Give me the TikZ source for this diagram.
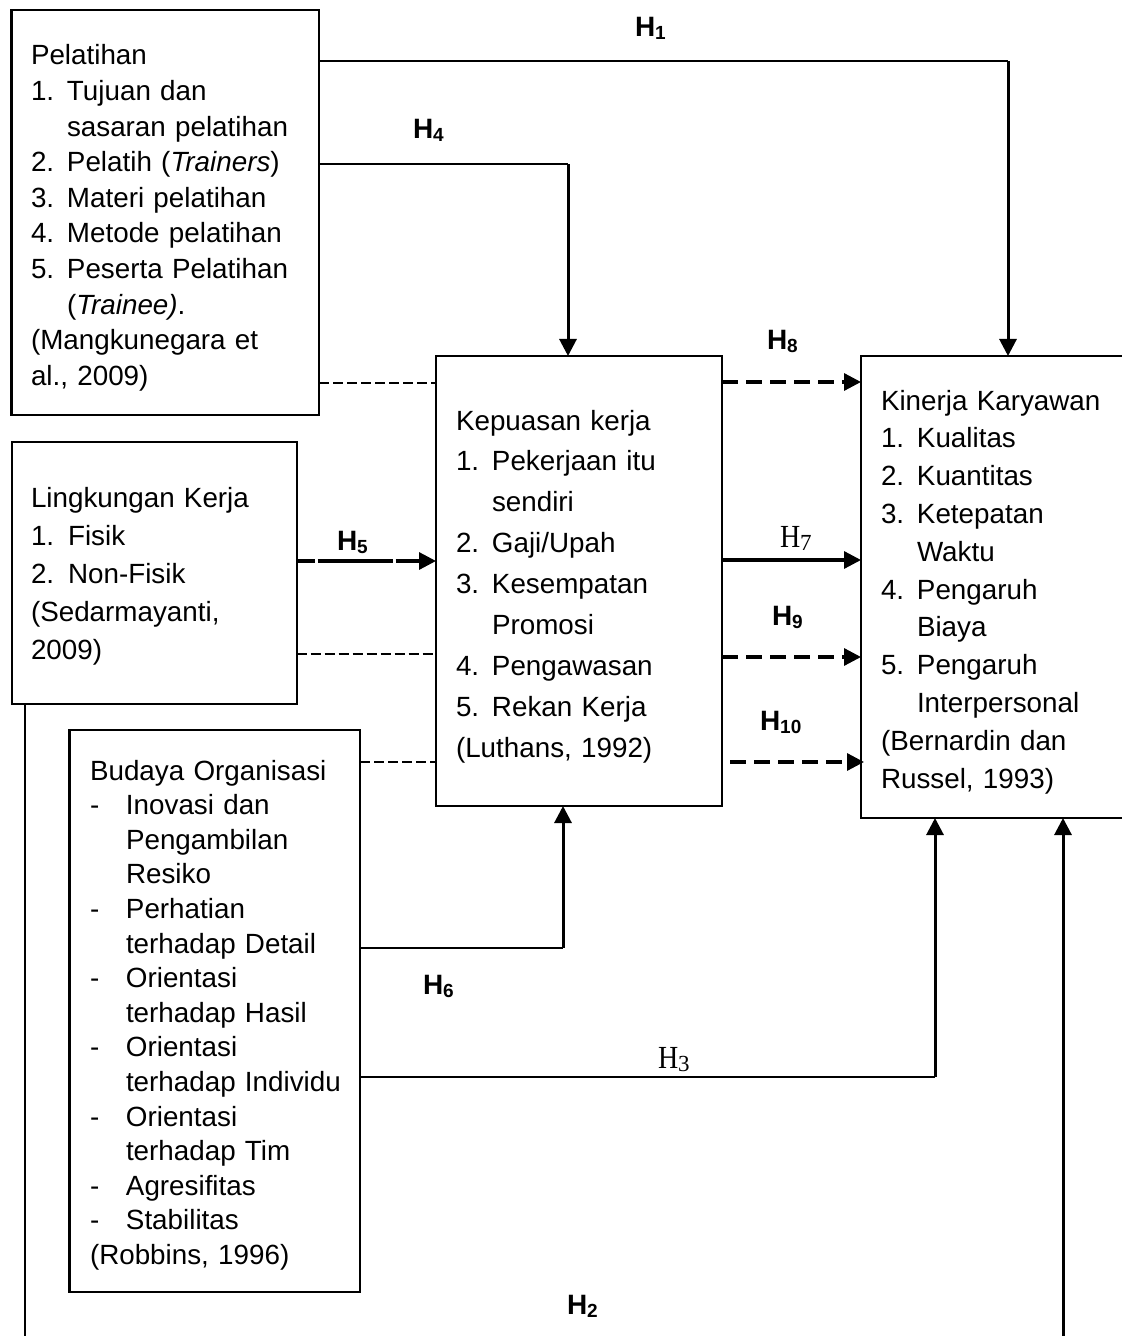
\documentclass[tikz,border=0pt]{standalone}
\usepackage{fontspec}
\usepackage{graphicx}
\setmainfont{Liberation Sans}
\newfontfamily\serifH{Liberation Serif}
\usetikzlibrary{arrows.meta,calc}
\newcommand\bodyf[1]{\fontsize{13.9pt}{#1}\selectfont}
\newcommand\nb[1]{\makebox[18pt][l]{#1}}
\newcommand\ind{\hspace*{18pt}}
\newcommand\hb[1]{\textbf{H}\raisebox{-1.5pt}{\fontsize{9.5pt}{9.5pt}\selectfont\bfseries #1}}
\newcommand\hs[1]{{\serifH\scalebox{1}[1.15]{H}\raisebox{-1.7pt}{\fontsize{11.5pt}{11.5pt}\selectfont #1}}}
\begin{document}
\begin{tikzpicture}[x=0.5pt,y=-0.5pt,
  box/.style={draw, line width=1.15pt, inner sep=0pt, outer sep=0pt, rectangle},
  txt/.style={inner sep=0pt, outer sep=0pt, anchor=base west, text width=170pt, align=left},
  lab/.style={inner sep=0pt, outer sep=0pt, anchor=base west, font=\fontsize{14pt}{14pt}\selectfont},
  hl/.style={line width=0.6pt},
  arr/.style={-{Triangle[length=8.5pt,width=8.5pt]}},
  varr/.style={arr, line width=1.5pt},
  dthin/.style={line width=0.7pt, dash pattern=on 5pt off 2pt},
  darr/.style={arr, line width=1.6pt, dash pattern=on 8pt off 4pt},
  sarr/.style={arr, line width=1.6pt},
  h5arr/.style={arr, line width=1.6pt, dash pattern=on 9pt off 1.5pt on 37.5pt off 1.5pt on 30pt off 1pt}
]
\useasboundingbox (0,0) rectangle (1122,1336);
\clip (0,0) rectangle (1122,1336);

% boxes
\node[box, minimum width=153.75pt, minimum height=202.5pt] (P) at (165.25,212.5) {};
\node[box, minimum width=142.5pt, minimum height=131pt] (L) at (154.2,573) {};
\node[box, minimum width=145.3pt, minimum height=281pt] (B) at (214.7,1011) {};
\node[box, minimum width=143pt, minimum height=225pt] (K) at (579,581) {};
\node[box, minimum width=133.5pt, minimum height=231pt] (KK) at (994.5,587) {};

% texts
\node[txt, font=\bodyf{17.8pt}] (Pt) at (31,65) {\bodyf{17.8pt}Pelatihan\\
\nb{1.}Tujuan dan\\
\ind sasaran pelatihan\\
\nb{2.}Pelatih (\textit{Trainers})\\
\nb{3.}Materi pelatihan\\
\nb{4.}Metode pelatihan\\
\nb{5.}Peserta Pelatihan\\
\ind (\textit{Trainee)}.\\
(Mangkunegara et\\
al., 2009)\par};

\node[txt, font=\bodyf{19pt}] (Lt) at (31,507) {\bodyf{19pt}Lingkungan Kerja\\
1. Fisik\\
2. Non-Fisik\\
(Sedarmayanti,\\
2009)\par};

\node[txt, font=\bodyf{17.3pt}] (Bt) at (90,780) {\bodyf{17.3pt}Budaya Organisasi\\
\nb{-}Inovasi dan\\
\ind Pengambilan\\
\ind Resiko\\
\nb{-}Perhatian\\
\ind terhadap Detail\\
\nb{-}Orientasi\\
\ind terhadap Hasil\\
\nb{-}Orientasi\\
\ind terhadap Individu\\
\nb{-}Orientasi\\
\ind terhadap Tim\\
\nb{-}Agresifitas\\
\nb{-}Stabilitas\\
(Robbins, 1996)\par};

\node[txt, font=\bodyf{20.45pt}] (Kt) at (456,430) {\bodyf{20.45pt}Kepuasan kerja\\
\nb{1.}Pekerjaan itu\\
\ind sendiri\\
\nb{2.}Gaji/Upah\\
\nb{3.}Kesempatan\\
\ind Promosi\\
\nb{4.}Pengawasan\\
\nb{5.}Rekan Kerja\\
(Luthans, 1992)\par};

\node[txt, font=\bodyf{18.9pt}] (KKt) at (881,410) {\bodyf{18.9pt}Kinerja Karyawan\\
\nb{1.}Kualitas\\
\nb{2.}Kuantitas\\
\nb{3.}Ketepatan\\
\ind Waktu\\
\nb{4.}Pengaruh\\
\ind Biaya\\
\nb{5.}Pengaruh\\
\ind Interpersonal\\
(Bernardin dan\\
Russel, 1993)\par};

% corner / row coordinates
\coordinate (c1) at (1008,61);
\coordinate (c4) at (568,164);
\coordinate (c6) at (563,948);
\coordinate (c3) at (935,1077);
\coordinate (c2L) at (25,1350);
\coordinate (c2R) at (1063,1350);
\coordinate (yd1) at (0,383);
\coordinate (yd2) at (0,654);
\coordinate (yd3) at (0,762);
\coordinate (y5) at (0,561);
\coordinate (y8) at (0,382);
\coordinate (y7) at (0,560);
\coordinate (y9) at (0,657);
\coordinate (s10) at (730,762);

% H1
\draw[hl] (P.east |- c1) -- (c1);
\draw[varr] (c1) -- (c1 |- KK.north);
% H4
\draw[hl] (P.east |- c4) -- (c4);
\draw[varr] (c4) -- (c4 |- K.north);
% H6
\draw[hl] (B.east |- c6) -- (c6);
\draw[varr] (c6) -- (c6 |- K.south);
% H3
\draw[hl] (B.east |- c3) -- (c3);
\draw[varr] (c3) -- (c3 |- KK.south);
% H2
\draw[line width=0.9pt] (c2L |- L.south) -- (c2L) -- (c2R);
\draw[varr] (c2R) -- (c2R |- KK.south);

% thin dashed links
\draw[dthin] (P.east |- yd1) -- (K.west |- yd1);
\draw[dthin] (L.east |- yd2) -- (K.west |- yd2);
\draw[dthin] (B.east |- yd3) -- (K.west |- yd3);

% H5
\draw[h5arr] (L.east |- y5) -- (K.west |- y5);
% H8, H7, H9, H10
\draw[darr] (K.east |- y8) -- (KK.west |- y8);
\draw[sarr] (K.east |- y7) -- (KK.west |- y7);
\draw[darr] (K.east |- y9) -- (KK.west |- y9);
\draw[darr] (s10) -- ([xshift=1.5pt]KK.west |- s10);

% labels
\node[lab] (l1) at (635,37) {\hb{1}};
\node[lab] (l4) at (413,139) {\hb{4}};
\node[lab] (l8) at (767,350) {\hb{8}};
\node[lab] (l5) at (337,550) {\hb{5}};
\node[lab] (l7) at (780,547) {\hs{7}};
\node[lab] (l9) at (772,625) {\hb{9}};
\node[lab] (l10) at (760,730) {\hb{10}};
\node[lab] (l6) at (423,994) {\hb{6}};
\node[lab] (l3) at (658,1068) {\hs{3}};
\node[lab] (l2) at (567,1314) {\hb{2}};
\end{tikzpicture}
\end{document}
